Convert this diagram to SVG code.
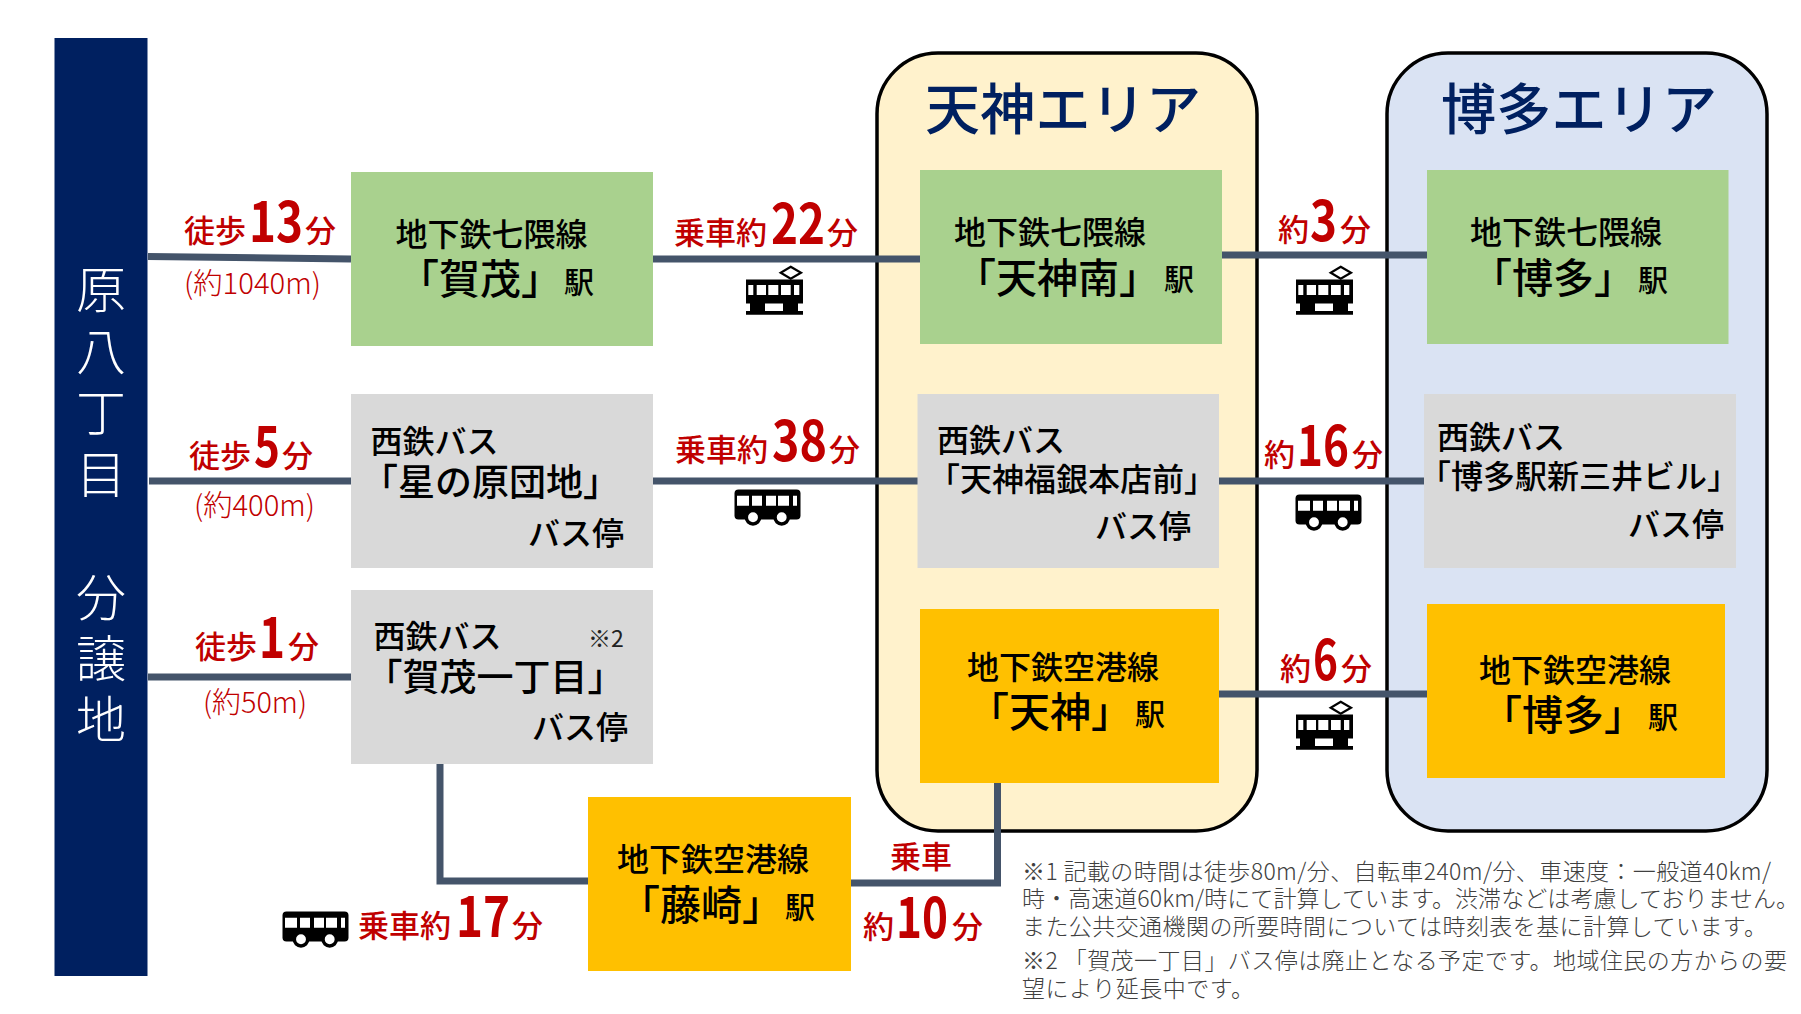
<svg xmlns="http://www.w3.org/2000/svg" xmlns:xlink="http://www.w3.org/1999/xlink" width="1801" height="1014" viewBox="0 0 1801 1014">
<style>
text{font-family:"Noto Sans CJK JP","Noto Sans",sans-serif;fill:#000}
.area{stroke:#000;stroke-width:3.5}
.green{fill:#a9d18e}.gray{fill:#d9d9d9}.orange{fill:#ffc000}
.ln{font-size:32px;font-weight:500}
.nm{font-size:41px;font-weight:500}
.nm2{font-size:37px;font-weight:500}
.nm3{font-size:32px;font-weight:500}
.ek{font-size:30px;font-weight:500}
.red{font-size:31px;font-weight:500;fill:#c00000}
.dg{font-size:56px;font-weight:700}
.dist{font-size:29px;font-weight:300;fill:#c00000}
.title{font-size:55px;font-weight:500;fill:#002060}
.side{font-size:50px;font-weight:300;fill:#fff;text-anchor:middle}
.note{font-size:23px;font-weight:300;fill:#404040}
.sm{font-size:23px;font-weight:400;fill:#222}
.conn path{fill:none;stroke:#44546a;stroke-width:7}
</style>
<defs>
<symbol id="train" width="58" height="52" viewBox="0 0 58 52" overflow="visible">
<path d="M45.7 1.7 56 7.7 45.7 13.7 35.7 7.7Z" fill="none" stroke="#000" stroke-width="2.2"/>
<path d="M1 14.5H58V38.5H1Z" fill="#000"/>
<path d="M3.3 20h5v10h-5zM11.7 20H21v10h-9.300zM23.300 20h10v10h-10zM36 20h9.700v10H36zM49 20h5.300v10H49z" fill="#fff"/>
<path d="M5 38h15v8H5zM38 38h15v8H38zM1 46h57v3.700H1z" fill="#000"/>
</symbol>
<symbol id="bus" width="67" height="36" viewBox="0 0 67 36" overflow="visible">
<rect x="0.500" y="0.500" width="66" height="30" rx="4" fill="#000"/>
<path d="M3 6.700h12v10H3zM18 6.700h10v10H18zM32 6.700h10v10H32zM44 6.700h11v10H44zM59 6.700h4v10h-4z" fill="#fff"/>
<circle cx="19" cy="28.300" r="6.700" fill="#fff" stroke="#000" stroke-width="3.500"/>
<circle cx="47.700" cy="28.300" r="6.700" fill="#fff" stroke="#000" stroke-width="3.500"/>
</symbol>
</defs>
<rect width="1801" height="1014" fill="#fff"/>
<g id="area-tenjin"><rect class="area" x="877" y="53" width="380" height="778" rx="61" fill="#fff2cc"/><text class="title" x="925" y="129" textLength="276">天神エリア</text></g>
<g id="area-hakata"><rect class="area" x="1387" y="53" width="380" height="778" rx="61" fill="#dae3f3"/><text class="title" x="1441" y="129" textLength="276">博多エリア</text></g>
<g id="connectors" class="conn">
<path d="M148 256.500 351 259"/>
<path d="M653 259H921"/>
<path d="M1222 255H1427"/>
<path d="M149 481H351"/>
<path d="M653 481H918"/>
<path d="M1219 481H1424"/>
<path d="M148 677H351"/>
<path d="M1219 694H1427"/>
<path d="M440 764V881H588"/>
<path d="M851 883H997.500V783"/>
</g>
<g id="site"><rect x="54.500" y="38" width="93" height="938" fill="#002060"/>
<text class="side"><tspan x="101" y="308">原</tspan><tspan x="101" y="370">八</tspan><tspan x="101" y="431">丁</tspan><tspan x="101" y="493">目</tspan><tspan x="101" y="616">分</tspan><tspan x="101" y="677">譲</tspan><tspan x="101" y="738">地</tspan></text></g>
<g id="kamo"><rect class="green" x="351" y="172" width="302" height="174"/><text class="ln" x="395.500" y="246">地下鉄七隈線</text><text class="nm" x="398" y="294">「賀茂」</text><text class="ek" x="564" y="293">駅</text></g>
<g id="hoshinohara"><rect class="gray" x="351" y="394" width="302" height="174"/><text class="ln" x="370.500" y="453">西鉄バス</text><text class="nm2" x="361" y="496">「星の原団地」</text><text class="ln" x="528" y="545">バス停</text></g>
<g id="kamo1"><rect class="gray" x="351" y="590" width="302" height="174"/><text class="ln" x="373.500" y="648">西鉄バス</text><text class="sm" x="588" y="647">※2</text><text class="nm2" x="365.500" y="691">「賀茂一丁目」</text><text class="ln" x="532" y="739">バス停</text></g>
<g id="fujisaki"><rect class="orange" x="588" y="797" width="263" height="174"/><text class="ln" x="617" y="871">地下鉄空港線</text><text class="nm" x="619" y="920">「藤崎」</text><text class="ek" x="785" y="918">駅</text></g>
<g id="tenjinminami"><rect class="green" x="920" y="170" width="302" height="174"/><text class="ln" x="954" y="244">地下鉄七隈線</text><text class="nm" x="955" y="293">「天神南」</text><text class="ek" x="1164" y="290">駅</text></g>
<g id="fukugin"><rect class="gray" x="917.500" y="394" width="301.500" height="174"/><text class="ln" x="937" y="452">西鉄バス</text><text class="nm3" x="928" y="491">「天神福銀本店前」</text><text class="ln" x="1095" y="538">バス停</text></g>
<g id="tenjin"><rect class="orange" x="920" y="609" width="299" height="174"/><text class="ln" x="967" y="679">地下鉄空港線</text><text class="nm" x="968" y="727">「天神」</text><text class="ek" x="1135" y="725">駅</text></g>
<g id="hakata-n"><rect class="green" x="1427" y="170" width="301.500" height="174"/><text class="ln" x="1470" y="244">地下鉄七隈線</text><text class="nm" x="1471" y="293">「博多」</text><text class="ek" x="1638" y="291">駅</text></g>
<g id="mitsui"><rect class="gray" x="1424" y="394" width="312" height="174"/><text class="ln" x="1437" y="449">西鉄バス</text><text class="nm3" x="1419" y="488">「博多駅新三井ビル」</text><text class="ln" x="1628" y="536">バス停</text></g>
<g id="hakata-a"><rect class="orange" x="1427" y="604" width="298" height="174"/><text class="ln" x="1479" y="682">地下鉄空港線</text><text class="nm" x="1481" y="730">「博多」</text><text class="ek" x="1648" y="728">駅</text></g>
<g id="labels">
<text class="red" x="184" y="242">徒歩<tspan class="dg" x="249" textLength="54" lengthAdjust="spacingAndGlyphs">13</tspan><tspan x="305">分</tspan></text>
<text class="dist" x="184" y="294" textLength="137" lengthAdjust="spacingAndGlyphs">(約1040m)</text>
<text class="red" x="674" y="244">乗車約<tspan class="dg" x="771" textLength="54" lengthAdjust="spacingAndGlyphs">22</tspan><tspan x="827">分</tspan></text>
<text class="red" x="1278" y="241">約<tspan class="dg" x="1310" textLength="27" lengthAdjust="spacingAndGlyphs">3</tspan><tspan x="1340">分</tspan></text>
<text class="red" x="189" y="467">徒歩<tspan class="dg" x="254" textLength="26" lengthAdjust="spacingAndGlyphs">5</tspan><tspan x="282">分</tspan></text>
<text class="dist" x="194" y="516" textLength="121" lengthAdjust="spacingAndGlyphs">(約400m)</text>
<text class="red" x="675" y="461">乗車約<tspan class="dg" x="772" textLength="55" lengthAdjust="spacingAndGlyphs">38</tspan><tspan x="829">分</tspan></text>
<text class="red" x="1264" y="466">約<tspan class="dg" x="1297" textLength="52" lengthAdjust="spacingAndGlyphs">16</tspan><tspan x="1352">分</tspan></text>
<text class="red" x="195" y="658">徒歩<tspan class="dg" x="259" textLength="26" lengthAdjust="spacingAndGlyphs">1</tspan><tspan x="288">分</tspan></text>
<text class="dist" x="203" y="713" textLength="104" lengthAdjust="spacingAndGlyphs">(約50m)</text>
<text class="red" x="1280" y="680">約<tspan class="dg" x="1313" textLength="25" lengthAdjust="spacingAndGlyphs">6</tspan><tspan x="1341">分</tspan></text>
<text class="red" x="358" y="937">乗車約<tspan class="dg" x="456" textLength="54" lengthAdjust="spacingAndGlyphs">17</tspan><tspan x="512">分</tspan></text>
<text class="red" x="890" y="868">乗車</text>
<text class="red" x="863" y="938">約<tspan class="dg" x="896" textLength="52" lengthAdjust="spacingAndGlyphs">10</tspan><tspan x="952">分</tspan></text>
</g>
<g id="icons">
<use xlink:href="#train" href="#train" x="745" y="265" width="58" height="52"/>
<use xlink:href="#train" href="#train" x="1295" y="265" width="58" height="52"/>
<use xlink:href="#train" href="#train" x="1295" y="700" width="58" height="52"/>
<use xlink:href="#bus" href="#bus" x="734" y="489" width="67" height="36"/>
<use xlink:href="#bus" href="#bus" x="1295" y="494" width="67" height="36"/>
<use xlink:href="#bus" href="#bus" x="282" y="911" width="67" height="36"/>
</g>
<g id="notes">
<text class="note" x="1022" y="880" textLength="749">※1 記載の時間は徒歩80m/分、自転車240m/分、車速度：一般道40km/</text>
<text class="note" x="1022" y="907" textLength="777">時・高速道60km/時にて計算しています。渋滞などは考慮しておりません。</text>
<text class="note" x="1022" y="935" textLength="745">また公共交通機関の所要時間については時刻表を基に計算しています。</text>
<text class="note" x="1022" y="969" textLength="765">※2 「賀茂一丁目」バス停は廃止となる予定です。地域住民の方からの要</text>
<text class="note" x="1022" y="997" textLength="232">望により延長中です。</text>
</g>
</svg>
